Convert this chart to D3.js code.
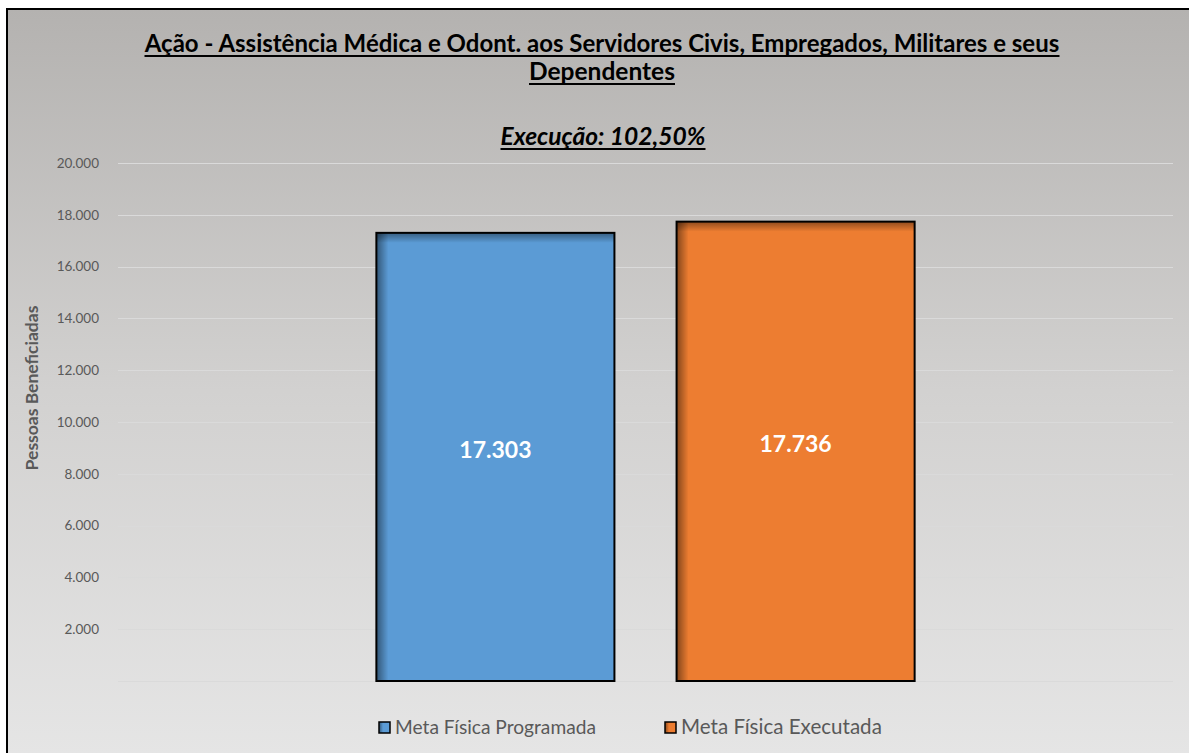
<!DOCTYPE html>
<html><head><meta charset="utf-8">
<script src="https://cdn.jsdelivr.net/npm/d3@7"></script>
<style>html,body{margin:0;padding:0;background:#fff;}svg{display:block;}</style>
</head><body>
<svg id="chart" width="1189" height="753"></svg>
<script>
const titleLines = ["Ação - Assistência Médica e Odont. aos Servidores Civis, Empregados, Militares e seus", "Dependentes"];
const subtitle = "Execução: 102,50%";
const yAxisTitle = "Pessoas Beneficiadas";
const series = ["Meta Física Programada", "Meta Física Executada"];
const values = [17303, 17736];
const colors = ["#5b9bd5", "#ed7d31"];
const yTicks = [2000, 4000, 6000, 8000, 10000, 12000, 14000, 16000, 18000, 20000];
const gridValues = [0, 2000, 4000, 6000, 8000, 10000, 12000, 14000, 16000, 18000, 20000];

const svg = d3.select("#chart");
const W = 1189, H = 753;
const font = "Lato, 'Open Sans', sans-serif";
const loc = d3.formatLocale({decimal: ",", thousands: ".", grouping: [3], currency: ["R$", ""]});
const fmt = loc.format(",.0f");

const defs = svg.append("defs");
const bg = defs.append("linearGradient").attr("id", "bg").attr("x1", 0).attr("y1", 0).attr("x2", 0).attr("y2", 1);
bg.append("stop").attr("offset", "0%").attr("stop-color", "#b4b2b0");
bg.append("stop").attr("offset", "50%").attr("stop-color", "#d2d1d0");
bg.append("stop").attr("offset", "100%").attr("stop-color", "#e6e6e6");
const lg = defs.append("linearGradient").attr("id", "shL").attr("x1", 0).attr("y1", 0).attr("x2", 1).attr("y2", 0);
lg.append("stop").attr("offset", "0%").attr("stop-color", "#000").attr("stop-opacity", 0.45);
lg.append("stop").attr("offset", "100%").attr("stop-color", "#000").attr("stop-opacity", 0);
const tg = defs.append("linearGradient").attr("id", "shT").attr("x1", 0).attr("y1", 0).attr("x2", 0).attr("y2", 1);
tg.append("stop").attr("offset", "0%").attr("stop-color", "#000").attr("stop-opacity", 0.4);
tg.append("stop").attr("offset", "100%").attr("stop-color", "#000").attr("stop-opacity", 0);

// chart area
svg.append("rect").attr("x", 7).attr("y", 9).attr("width", W + 10).attr("height", H + 10)
  .attr("fill", "url(#bg)").attr("stroke", "#000").attr("stroke-width", 2);

const plot = {left: 118, right: 1173, top: 163, bottom: 681};
const y = d3.scaleLinear().domain([0, 20000]).range([plot.bottom, plot.top]);
const xOuter = d3.scaleBand().domain(["g"]).range([plot.left, plot.right]).paddingInner(0).paddingOuter(0.48);
const xInner = d3.scaleBand().domain(series).range([0, xOuter.bandwidth()]).paddingInner(0.207);

// gridlines
svg.append("g").selectAll("line").data(gridValues).join("line")
  .attr("x1", plot.left).attr("x2", plot.right)
  .attr("y1", d => Math.round(y(d)) + 0.5).attr("y2", d => Math.round(y(d)) + 0.5)
  .attr("stroke", "#dadada").attr("stroke-width", 1.2);

// y axis labels
const yAxis = d3.axisLeft(y).tickValues(yTicks).tickFormat(fmt).tickSize(0).tickPadding(0);
const yg = svg.append("g").attr("transform", `translate(99,0)`).call(yAxis);
yg.select(".domain").remove();
yg.selectAll("text").attr("font-family", font).attr("font-size", 13.5).attr("fill", "#595959");

// axis title
const at = svg.append("text").attr("transform", "translate(38,388) rotate(-90)")
  .attr("text-anchor", "middle").attr("font-family", font).attr("font-weight", "bold")
  .attr("font-size", 14).attr("fill", "#595959").text(yAxisTitle);
{ const w = at.node().getComputedTextLength(); at.attr("font-size", 14 * 165 / w); }

// bars
const barsG = svg.append("g").attr("transform", `translate(${xOuter("g")},0)`);
const bars = barsG.selectAll("g.bar").data(series.map((s, i) => ({s, v: values[i], c: colors[i]}))).join("g").attr("class", "bar");
bars.append("rect").attr("x", d => xInner(d.s)).attr("y", d => y(d.v))
  .attr("width", xInner.bandwidth()).attr("height", d => y(0) - y(d.v)).attr("fill", d => d.c);
bars.append("rect").attr("x", d => xInner(d.s)).attr("y", d => y(d.v))
  .attr("width", 12).attr("height", d => y(0) - y(d.v)).attr("fill", "url(#shL)");
bars.append("rect").attr("x", d => xInner(d.s)).attr("y", d => y(d.v))
  .attr("width", xInner.bandwidth()).attr("height", 10).attr("fill", "url(#shT)");
bars.append("rect").attr("x", d => xInner(d.s)).attr("y", d => y(d.v))
  .attr("width", xInner.bandwidth()).attr("height", d => y(0) - y(d.v))
  .attr("fill", "none").attr("stroke", "#000").attr("stroke-width", 2);
bars.append("text").attr("x", d => xInner(d.s) + xInner.bandwidth() / 2)
  .attr("y", d => (y(d.v) + y(0)) / 2 + 1)
  .attr("text-anchor", "middle").attr("font-family", font).attr("font-weight", "bold")
  .attr("font-size", 23).attr("fill", "#fff").text(d => fmt(d.v));

// title with underline
function uText(txt, cx, base, size, width, italic) {
  const t = svg.append("text").attr("x", cx).attr("y", base).attr("text-anchor", "middle")
    .attr("font-family", font).attr("font-weight", "bold").attr("font-size", size)
    .attr("font-style", italic ? "italic" : "normal").attr("fill", "#000").text(txt);
  let w = t.node().getComputedTextLength();
  if (width) { t.attr("font-size", size * width / w); w = width; }
  svg.append("line").attr("x1", cx - w / 2).attr("x2", cx + w / 2)
    .attr("y1", base + 4).attr("y2", base + 4).attr("stroke", "#000").attr("stroke-width", 2);
}
uText(titleLines[0], 602, 52, 22, 915, false);
uText(titleLines[1], 602, 80, 22, 146, false);
uText(subtitle, 603, 145, 22, 205, true);

// legend
const legendX = [379, 665];
const lgd = svg.append("g").selectAll("g").data(series).join("g")
  .attr("transform", (d, i) => `translate(${legendX[i]},722)`);
lgd.append("rect").attr("width", 11).attr("height", 11).attr("fill", (d, i) => colors[i]).attr("stroke", "#000").attr("stroke-width", 1.5);
lgd.append("rect").attr("width", 4).attr("height", 11).attr("fill", "url(#shL)");
lgd.append("text").attr("x", 16).attr("y", 12).attr("font-family", font).attr("font-size", 17)
  .attr("fill", "#595959").text(d => d)
  .each(function() { const w = this.getComputedTextLength(); d3.select(this).attr("font-size", 17 * 201 / w); });
</script>
</body></html>
